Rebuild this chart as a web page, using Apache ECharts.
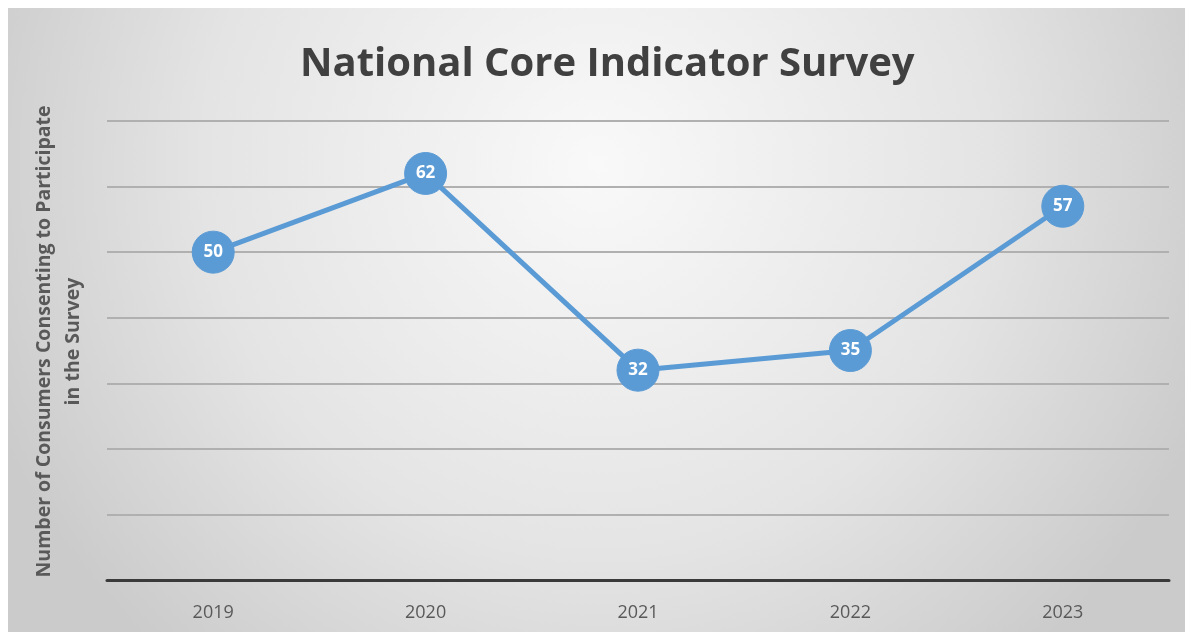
<!DOCTYPE html>
<html><head><meta charset="utf-8">
<script src="https://cdn.jsdelivr.net/npm/echarts@6/dist/echarts.min.js"></script>
<style>html,body{margin:0;padding:0;background:#fff}#c{width:1193px;height:637px}</style>
</head><body><div id="c"></div>
<script>
const titleText = "National Core Indicator Survey";
const yAxisName = "Number of Consumers Consenting to Participate\nin the Survey";
const categories = ["2019", "2020", "2021", "2022", "2023"];
const values = [50, 62, 32, 35, 57];

const chart = echarts.init(document.getElementById('c'));
chart.setOption({
  animation: false,
  graphic: [{
    type: 'rect', z: -10, silent: true,
    shape: { x: 8, y: 8, width: 1177, height: 624 },
    style: {
      fill: new echarts.graphic.RadialGradient(0.5, 0.25, 1.05, [
        { offset: 0, color: '#f9f9f9' },
        { offset: 0.6, color: '#e4e4e4' },
        { offset: 1, color: '#cbcbcb' }
      ])
    }
  }],
  title: {
    text: titleText, left: 295, top: 40,
    textStyle: { fontFamily: 'Open Sans', fontWeight: 'bold', fontSize: 40, color: '#404040' }
  },
  grid: { left: 107, right: 24, top: 121, bottom: 57 },
  xAxis: {
    type: 'category', data: categories, boundaryGap: true,
    axisLine: { lineStyle: { color: '#3a3a3a', width: 3 } },
    axisTick: { show: false },
    axisLabel: { fontFamily: 'Open Sans', fontSize: 18, color: '#595959', margin: 24 }
  },
  yAxis: {
    type: 'value', min: 0, max: 70, interval: 10,
    name: yAxisName, nameLocation: 'middle', nameGap: 19, nameRotate: 90,
    nameTextStyle: { fontFamily: 'Open Sans', fontSize: 19.5, fontWeight: 'bold', color: '#595959', lineHeight: 29, padding: [0, 0, 0, 18] },
    axisLabel: { show: false },
    axisLine: { show: false }, axisTick: { show: false },
    splitLine: { lineStyle: { color: '#b0b0b0', width: 2 } }
  },
  series: [{
    type: 'line', data: values,
    symbol: 'circle', symbolSize: 42,
    lineStyle: { color: '#5b9bd5', width: 5 },
    itemStyle: { color: '#5b9bd5', borderColor: '#5b9bd5' },
    label: { show: true, position: 'inside', color: '#fff', fontFamily: 'Open Sans', fontWeight: 'bold', fontSize: 17 }
  }]
});
</script></body></html>
